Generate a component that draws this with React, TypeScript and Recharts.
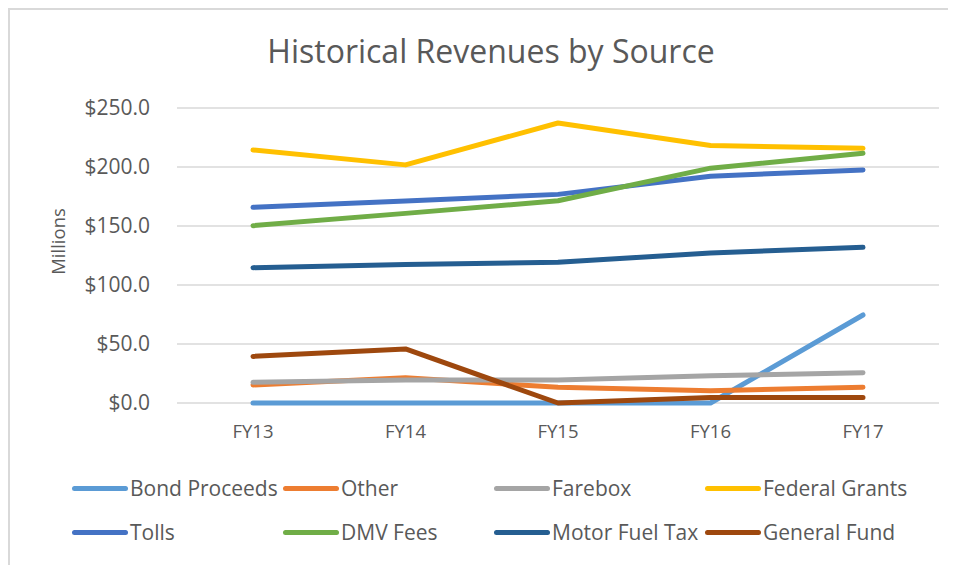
import React from 'react';
import { LineChart, Line, XAxis, YAxis, CartesianGrid } from 'recharts';

const categories = ['FY13', 'FY14', 'FY15', 'FY16', 'FY17'];
const bondProceeds = [0, 0, 0, 0, 74.6];
const other = [15.3, 21.5, 13.3, 10.4, 13.3];
const farebox = [17.5, 19.5, 19.5, 23, 25.7];
const federalGrants = [214.4, 201.8, 237.3, 218.3, 215.8];
const tolls = [165.8, 171.2, 176.8, 192.2, 197.5];
const dmvFees = [150.3, 160.7, 171.4, 199, 211.6];
const motorFuelTax = [114.7, 117.3, 119.2, 127.2, 131.9];
const generalFund = [39.5, 45.8, 0, 4.7, 4.7];
const yTicks = [0, 50, 100, 150, 200, 250];

const series = [
  { key: 'bond', name: 'Bond Proceeds', values: bondProceeds, color: '#5B9BD5' },
  { key: 'other', name: 'Other', values: other, color: '#ED7D31' },
  { key: 'farebox', name: 'Farebox', values: farebox, color: '#A5A5A5' },
  { key: 'federal', name: 'Federal Grants', values: federalGrants, color: '#FFC000' },
  { key: 'tolls', name: 'Tolls', values: tolls, color: '#4472C4' },
  { key: 'dmv', name: 'DMV Fees', values: dmvFees, color: '#70AD47' },
  { key: 'fuel', name: 'Motor Fuel Tax', values: motorFuelTax, color: '#255E91' },
  { key: 'general', name: 'General Fund', values: generalFund, color: '#9E480E' },
];

const data = categories.map((c, i) => {
  const row: Record<string, any> = { cat: c };
  series.forEach((s) => (row[s.key] = s.values[i]));
  return row;
});

const FONT = '"Open Sans", Lato, sans-serif';
const TEXT = '#595959';

export default function App() {
  return (
    <div
      style={{
        position: 'relative',
        width: 946,
        height: 555,
        borderTop: '2px solid #d9d9d9',
        borderLeft: '2px solid #d9d9d9',
        fontFamily: FONT,
        background: '#fff',
      }}
    >
      <div
        style={{
          position: 'absolute',
          left: 0,
          width: 962,
          top: 20,
          textAlign: 'center',
          fontSize: 32,
          color: TEXT,
          lineHeight: '42px',
        }}
      >
        Historical Revenues by Source
      </div>
      <LineChart
        width={946}
        height={555}
        data={data}
        margin={{ top: 98, right: 17, bottom: 122, left: 0 }}
      >
        <CartesianGrid vertical={false} stroke="#d9d9d9" strokeWidth={1.5} />
        <XAxis
          dataKey="cat"
          axisLine={false}
          tickLine={false}
          tickSize={0}
          tickMargin={22}
          height={40}
          padding={{ left: 76, right: 76 }}
          tick={{ fill: TEXT, fontSize: 18.5, fontFamily: FONT }}
        />
        <YAxis
          width={167}
          domain={[0, 250]}
          ticks={yTicks}
          axisLine={false}
          tickLine={false}
          tickSize={0}
          tickMargin={27}
          tickFormatter={(v: number) => `$${v.toFixed(1)}`}
          tick={{ fill: TEXT, fontSize: 21, fontFamily: FONT }}
          label={{
            content: (props: any) => {
              const vb = props.viewBox || {};
              const x = (vb.x || 0) + 47.5;
              const y = (vb.y || 0) + (vb.height || 0) / 2 - 14;
              return (
                <text
                  x={x}
                  y={y}
                  transform={`rotate(-90 ${x} ${y})`}
                  textAnchor="middle"
                  dominantBaseline="central"
                  fill={TEXT}
                  fontSize={18.5}
                  fontFamily={FONT}
                >
                  Millions
                </text>
              );
            },
          }}
        />
        {series.map((s) => (
          <Line
            key={s.key}
            dataKey={s.key}
            name={s.name}
            stroke={s.color}
            strokeWidth={5}
            strokeLinecap="round"
            strokeLinejoin="round"
            dot={false}
            activeDot={false}
            isAnimationActive={false}
          />
        ))}
      </LineChart>
      <div
        style={{
          position: 'absolute',
          left: 62,
          top: 456,
          display: 'grid',
          gridTemplateColumns: 'repeat(4, 211px)',
          gridAutoRows: '44px',
        }}
      >
        {series.map((s) => (
          <div key={s.key} style={{ display: 'flex', alignItems: 'center', whiteSpace: 'nowrap' }}>
            <div style={{ width: 56, height: 5, borderRadius: 3, background: s.color, marginRight: 2 }} />
            <span style={{ fontSize: 21, color: TEXT }}>{s.name}</span>
          </div>
        ))}
      </div>
    </div>
  );
}
